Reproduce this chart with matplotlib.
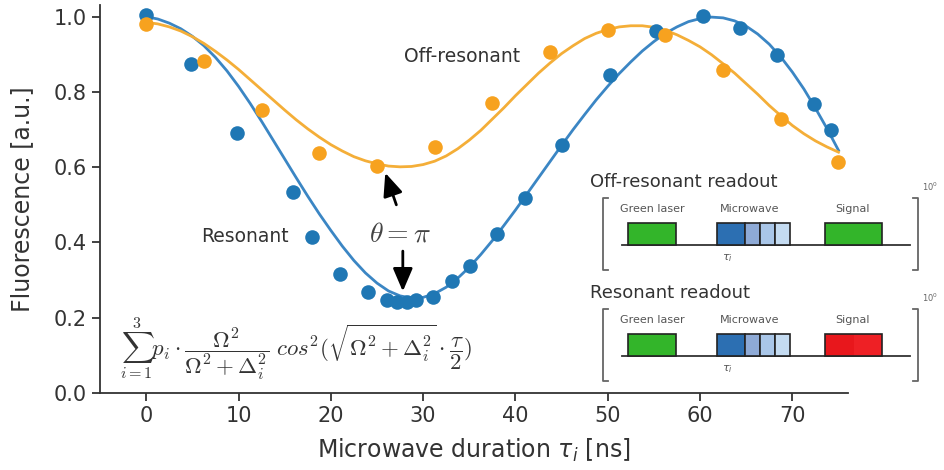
import numpy as np
import matplotlib
matplotlib.use("Agg")
import matplotlib.pyplot as plt
from matplotlib.patches import Rectangle

# measured points (Rabi oscillation)
res_x = [0, 4.9, 9.8, 15.9, 18, 21, 24, 26.1, 27.2, 28.2, 29.2, 31.1, 33.1, 35.1,
         38, 41, 45.1, 50.2, 55.2, 60.3, 64.3, 68.3, 72.3, 74.2]
res_y = [1.005, 0.875, 0.692, 0.533, 0.414, 0.316, 0.268, 0.247, 0.241, 0.241, 0.247,
         0.255, 0.297, 0.337, 0.422, 0.517, 0.66, 0.846, 0.963, 1.003, 0.971, 0.899,
         0.769, 0.698]

off_x = [0, 6.25, 12.5, 18.75, 25, 31.25, 37.5, 43.75, 50, 56.25, 62.5, 68.75, 75]
off_y = [0.981, 0.883, 0.753, 0.639, 0.602, 0.655, 0.772, 0.905, 0.966, 0.952,
         0.859, 0.727, 0.613]

# fitted curves, every 1.25 ns
fit_x = [i * 1.25 for i in range(61)]
fit_res = [1.000, 0.994, 0.983, 0.968, 0.948, 0.923, 0.892, 0.856, 0.815, 0.770,
           0.722, 0.672, 0.622, 0.572, 0.523, 0.476, 0.432, 0.390, 0.352, 0.319,
           0.292, 0.271, 0.258, 0.252, 0.254, 0.264, 0.281, 0.305, 0.334, 0.368,
           0.405, 0.445, 0.486, 0.529, 0.572, 0.615, 0.658, 0.700, 0.740, 0.779,
           0.815, 0.849, 0.880, 0.909, 0.934, 0.956, 0.973, 0.987, 0.995, 0.999,
           0.997, 0.989, 0.975, 0.954, 0.927, 0.893, 0.853, 0.808, 0.757, 0.703,
           0.645]
fit_off = [0.985, 0.981, 0.973, 0.962, 0.947, 0.929, 0.908, 0.885, 0.860, 0.833,
           0.806, 0.779, 0.752, 0.726, 0.702, 0.680, 0.660, 0.643, 0.628, 0.617,
           0.609, 0.603, 0.601, 0.602, 0.607, 0.616, 0.630, 0.649, 0.672, 0.698,
           0.728, 0.758, 0.790, 0.820, 0.850, 0.877, 0.902, 0.923, 0.942, 0.956,
           0.966, 0.973, 0.976, 0.976, 0.972, 0.964, 0.952, 0.937, 0.920, 0.899,
           0.875, 0.850, 0.822, 0.794, 0.764, 0.737, 0.711, 0.689, 0.670, 0.654,
           0.640]

BLUE_PT = "#1f77b4"
BLUE_LN = "#3b86c4"
ORANGE_PT = "#f7a21f"
ORANGE_LN = "#f4ae38"
INK = "#333333"

fig = plt.figure(figsize=(9.44, 4.70), dpi=100)
ax = fig.add_axes([0.106, 0.164, 0.792, 0.826])

ax.plot(fit_x, fit_res, color=BLUE_LN, lw=2.0, zorder=2)
ax.plot(fit_x, fit_off, color=ORANGE_LN, lw=2.0, zorder=2)
ax.scatter(res_x, res_y, s=110, color=BLUE_PT, zorder=3, linewidths=0)
ax.scatter(off_x, off_y, s=110, color=ORANGE_PT, zorder=3, linewidths=0)

ax.set_xlim(-5, 76)
ax.set_ylim(0, 1.032)
ax.set_xticks(range(0, 71, 10))
ax.set_yticks([0.0, 0.2, 0.4, 0.6, 0.8, 1.0])
ax.spines["top"].set_visible(False)
ax.spines["right"].set_visible(False)
for s in ["left", "bottom"]:
    ax.spines[s].set_color(INK)
    ax.spines[s].set_linewidth(1.3)
ax.tick_params(labelsize=15, length=6, width=1.3, color=INK, labelcolor=INK)
ax.set_xlabel(r"Microwave duration $\tau_i$ [ns]", fontsize=17, color=INK, labelpad=8)
ax.set_ylabel("Fluorescence [a.u.]", fontsize=17, color=INK, labelpad=14)

ax.text(34.2, 0.894, "Off-resonant", fontsize=13.5, color=INK, ha="center", va="center")
ax.text(10.7, 0.416, "Resonant", fontsize=13.5, color=INK, ha="center", va="center")
ax.text(27.5, 0.424, r"$\theta = \pi$", fontsize=20, color="#444444",
        ha="center", va="center", math_fontfamily="cm")
arrow = dict(arrowstyle="-|>,head_length=0.7,head_width=0.3", color="black", lw=2,
             mutation_scale=20, shrinkA=0, shrinkB=0)
ax.annotate("", xy=(25.9, 0.585), xytext=(27.1, 0.50), arrowprops=arrow)
ax.annotate("", xy=(27.8, 0.27), xytext=(27.8, 0.377), arrowprops=arrow)

formula = (r"$\sum_{i=1}^{3} p_i \cdot \dfrac{\Omega^2}{\Omega^2+\Delta_i^2}\ "
           r"cos^2(\sqrt{\Omega^2+\Delta_i^2}\cdot\dfrac{\tau}{2})$")
ax.text(-2.8, 0.118, formula, fontsize=16.5, color=INK, ha="left", va="center",
        math_fontfamily="cm")

# pulse sequence sketches, drawn in pixel coordinates
ov = fig.add_axes([0, 0, 1, 1], facecolor="none")
ov.set_xlim(0, 944)
ov.set_ylim(470, 0)
ov.axis("off")


def sequence(dy, title, signal_colors):
    ov.text(590, 182 + dy, title, fontsize=13, color=INK, ha="left", va="center")
    ov.text(922, 187 + dy, r"$10^0$", fontsize=6, color="#666666", ha="left", va="center")
    br = dict(color="#666666", lw=1.3)
    ov.plot([608, 603, 603, 608], [198 + dy, 198 + dy, 270 + dy, 270 + dy], **br)
    ov.plot([913, 918, 918, 913], [198 + dy, 198 + dy, 270 + dy, 270 + dy], **br)
    base, top = 245 + dy, 223 + dy
    ov.plot([622, 910], [base, base], color=INK, lw=1.3, zorder=1)
    ov.add_patch(Rectangle((628, top), 48, base - top, facecolor="#33b52a",
                           edgecolor="#222222", lw=1.2, zorder=2))
    mw = [(717, 28, "#2c6fb2"), (745, 15, "#8eaad6"), (760, 15, "#a9c6e8"), (775, 15, "#c4dbf1")]
    for x0, w, c in mw:
        ov.add_patch(Rectangle((x0, top), w, base - top, facecolor=c,
                               edgecolor="#222222", lw=1.2, zorder=2))
    w = 57 / len(signal_colors)
    for k, c in enumerate(signal_colors):
        ov.add_patch(Rectangle((825 + k * w, top), w, base - top, facecolor=c,
                               edgecolor="none", zorder=2))
    ov.add_patch(Rectangle((825, top), 57, base - top, facecolor="none",
                           edgecolor="#222222", lw=1.2, zorder=3))
    lab = dict(fontsize=8, color="#555555", ha="center", va="center")
    ov.text(652, 209 + dy, "Green laser", **lab)
    ov.text(750, 209 + dy, "Microwave", **lab)
    ov.text(853, 209 + dy, "Signal", **lab)
    ov.text(727, 258 + dy, r"$\tau_i$", **lab)


sequence(0, "Off-resonant readout", ["#33b52a"])
sequence(111, "Resonant readout", ["#e8171c", "#ee2025"])

fig.savefig("out.png", dpi=100)
